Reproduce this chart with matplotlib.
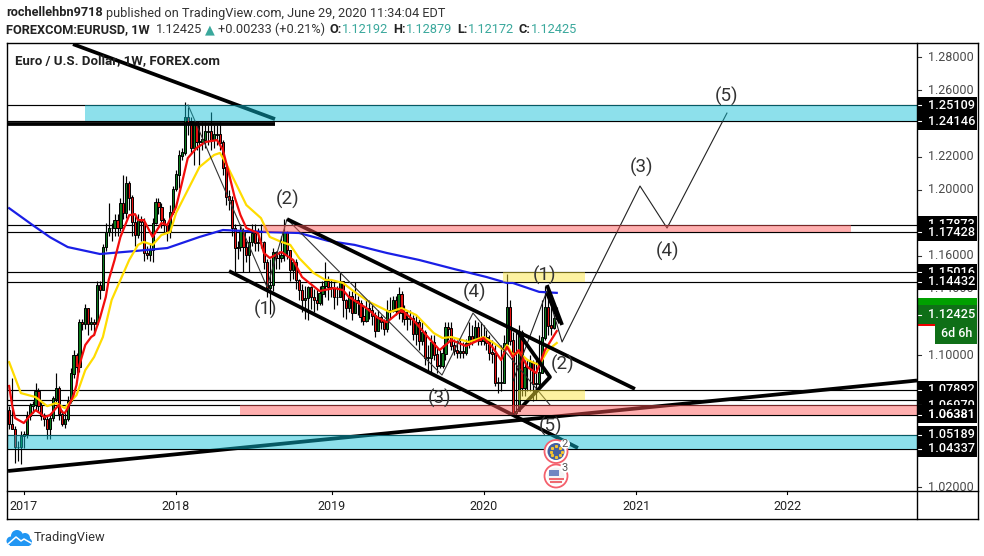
import numpy as np
import matplotlib
matplotlib.use("Agg")
import matplotlib.pyplot as plt
from matplotlib.patches import Rectangle, Circle

plt.rcParams['font.family'] = ['Roboto', 'DejaVu Sans']

# weekly candles, ten per row
closes = [
    1.0583, 1.0552, 1.0443, 1.0443, 1.0510, 1.0522, 1.0631, 1.0692, 1.0698, 1.0777,
    1.0692, 1.0631, 1.0613, 1.0552, 1.0619, 1.0735, 1.0795, 1.0643, 1.0583, 1.0613,
    1.0722, 1.0886, 1.0996, 1.0929, 1.1196, 1.1190, 1.1281, 1.1190, 1.1196, 1.1190,
    1.1421, 1.1391, 1.1652, 1.1743, 1.1767, 1.1767, 1.1816, 1.1767, 1.1919, 1.1858,
    1.2035, 1.1950, 1.1804, 1.1725, 1.1816, 1.1804, 1.1615, 1.1603, 1.1634, 1.1798,
    1.1925, 1.1895, 1.1816, 1.1785, 1.1743, 1.1864, 1.2004, 1.2089, 1.2205, 1.2223,
    1.2435, 1.2405, 1.2253, 1.2411, 1.2290, 1.2290, 1.2302, 1.2350, 1.2350, 1.2302,
    1.2332, 1.2332, 1.2284, 1.2132, 1.1956, 1.1937, 1.1767, 1.1646, 1.1652, 1.1755,
    1.1652, 1.1603, 1.1682, 1.1737, 1.1676, 1.1682, 1.1682, 1.1561, 1.1403, 1.1421,
    1.1621, 1.1585, 1.1585, 1.1603, 1.1743, 1.1634, 1.1512, 1.1561, 1.1451, 1.1391,
    1.1330, 1.1342, 1.1409, 1.1348, 1.1330, 1.1312, 1.1372, 1.1415, 1.1445, 1.1409,
    1.1403, 1.1348, 1.1348, 1.1445, 1.1330, 1.1287, 1.1354, 1.1257, 1.1330, 1.1312,
    1.1233, 1.1208, 1.1281, 1.1269, 1.1239, 1.1148, 1.1227, 1.1202, 1.1160, 1.1269,
    1.1269, 1.1330, 1.1269, 1.1366, 1.1257, 1.1220, 1.1220, 1.1220, 1.1129, 1.1196,
    1.1087, 1.1135, 1.0984, 1.0984, 1.1075, 1.1002, 1.0935, 1.0935, 1.1008, 1.1166,
    1.1160, 1.1056, 1.1026, 1.1014, 1.1020, 1.1014, 1.1069, 1.1111, 1.1087, 1.1166,
    1.1105, 1.1087, 1.1105, 1.1075, 1.1014, 1.1008, 1.0832, 1.0832, 1.0832, 1.1069,
    1.1287, 1.1087, 1.0650, 1.0660, 1.1135, 1.0801, 1.0923, 1.0923, 1.0953, 1.0826,
    1.0826, 1.0892, 1.1105, 1.1287, 1.1178, 1.1166, 1.1219, 1.12425,
]
highs = [
    1.069, 1.086, 1.057, 1.048, 1.054, 1.054, 1.066, 1.071, 1.072, 1.083,
    1.080, 1.072, 1.065, 1.063, 1.065, 1.075, 1.089, 1.081, 1.067, 1.066,
    1.075, 1.092, 1.103, 1.101, 1.122, 1.122, 1.131, 1.122, 1.123, 1.122,
    1.145, 1.145, 1.167, 1.180, 1.192, 1.180, 1.185, 1.185, 1.195, 1.209,
    1.208, 1.205, 1.197, 1.185, 1.185, 1.184, 1.183, 1.166, 1.168, 1.183,
    1.195, 1.195, 1.192, 1.183, 1.180, 1.191, 1.202, 1.212, 1.224, 1.225,
    1.253, 1.250, 1.244, 1.242, 1.241, 1.239, 1.241, 1.241, 1.239, 1.247,
    1.239, 1.239, 1.241, 1.230, 1.215, 1.200, 1.196, 1.179, 1.169, 1.179,
    1.177, 1.169, 1.172, 1.179, 1.179, 1.177, 1.179, 1.169, 1.158, 1.158,
    1.165, 1.163, 1.163, 1.172, 1.182, 1.175, 1.163, 1.158, 1.158, 1.146,
    1.143, 1.142, 1.142, 1.142, 1.140, 1.140, 1.142, 1.145, 1.156, 1.148,
    1.146, 1.145, 1.142, 1.150, 1.145, 1.134, 1.139, 1.139, 1.144, 1.136,
    1.133, 1.130, 1.133, 1.133, 1.130, 1.126, 1.127, 1.124, 1.122, 1.133,
    1.135, 1.136, 1.136, 1.141, 1.139, 1.130, 1.127, 1.127, 1.124, 1.124,
    1.122, 1.120, 1.115, 1.106, 1.112, 1.112, 1.104, 1.103, 1.106, 1.120,
    1.120, 1.120, 1.110, 1.109, 1.109, 1.108, 1.110, 1.120, 1.118, 1.121,
    1.120, 1.120, 1.118, 1.115, 1.112, 1.109, 1.106, 1.087, 1.106, 1.112,
    1.149, 1.133, 1.114, 1.115, 1.118, 1.115, 1.097, 1.097, 1.100, 1.097,
    1.097, 1.112, 1.133, 1.142, 1.134, 1.130, 1.124, 1.12879,
]
lows = [
    1.055, 1.055, 1.035, 1.036, 1.034, 1.044, 1.050, 1.061, 1.065, 1.067,
    1.066, 1.061, 1.057, 1.049, 1.049, 1.060, 1.071, 1.061, 1.057, 1.056,
    1.060, 1.071, 1.086, 1.089, 1.090, 1.115, 1.116, 1.112, 1.115, 1.112,
    1.118, 1.134, 1.142, 1.163, 1.172, 1.169, 1.172, 1.172, 1.175, 1.182,
    1.183, 1.188, 1.172, 1.166, 1.171, 1.169, 1.157, 1.158, 1.157, 1.156,
    1.179, 1.185, 1.177, 1.174, 1.169, 1.171, 1.185, 1.199, 1.201, 1.218,
    1.221, 1.233, 1.222, 1.215, 1.224, 1.215, 1.224, 1.225, 1.227, 1.224,
    1.225, 1.227, 1.224, 1.209, 1.191, 1.188, 1.172, 1.150, 1.158, 1.163,
    1.150, 1.156, 1.150, 1.166, 1.163, 1.163, 1.165, 1.152, 1.135, 1.125,
    1.139, 1.152, 1.152, 1.156, 1.157, 1.158, 1.145, 1.146, 1.140, 1.133,
    1.126, 1.122, 1.121, 1.128, 1.126, 1.127, 1.130, 1.130, 1.135, 1.133,
    1.135, 1.128, 1.130, 1.136, 1.123, 1.122, 1.126, 1.121, 1.127, 1.124,
    1.120, 1.118, 1.120, 1.122, 1.118, 1.111, 1.115, 1.116, 1.112, 1.114,
    1.122, 1.126, 1.124, 1.122, 1.120, 1.118, 1.115, 1.118, 1.109, 1.106,
    1.103, 1.106, 1.094, 1.089, 1.089, 1.097, 1.089, 1.092, 1.092, 1.097,
    1.109, 1.103, 1.100, 1.098, 1.098, 1.098, 1.100, 1.104, 1.106, 1.109,
    1.106, 1.106, 1.106, 1.103, 1.097, 1.095, 1.081, 1.077, 1.078, 1.097,
    1.106, 1.106, 1.0638, 1.0638, 1.075, 1.075, 1.075, 1.078, 1.078, 1.072,
    1.073, 1.081, 1.106, 1.109, 1.112, 1.112, 1.116, 1.12172,
]
first_open = 1.0662
last_bar_date = 2020.49

# moving averages, read at some bars only
red_bars = [0, 1, 2, 5, 7, 9, 11, 12, 14, 16, 17, 18, 19, 20, 22, 23, 24, 26, 28, 29, 31, 33, 34, 36,
            38, 41, 43, 44, 46, 49, 52, 54, 57, 59, 61, 64, 67, 71, 73, 75, 77, 79, 81, 85, 87, 89,
            93, 97, 100, 106, 111, 114, 116, 122, 126, 129, 134, 138, 143, 147, 151, 156, 162, 165,
            168, 170, 172, 174, 177, 180, 183, 187]
red_ma = [1.0813, 1.0698, 1.0619, 1.0589, 1.0631, 1.0667, 1.0643, 1.0625, 1.0637, 1.0679, 1.0698, 1.0655,
          1.0649, 1.0679, 1.0758, 1.0819, 1.0940, 1.1061, 1.1109, 1.1121, 1.1224, 1.1351, 1.1454, 1.1575,
          1.1714, 1.1846, 1.1852, 1.1816, 1.1816, 1.1714, 1.1798, 1.1786, 1.1895, 1.2040, 1.2191, 1.2252,
          1.2288, 1.2300, 1.2240, 1.2101, 1.1955, 1.1846, 1.1768, 1.1737, 1.1617, 1.1587, 1.1623, 1.1575,
          1.1472, 1.1387, 1.1405, 1.1393, 1.1351, 1.1284, 1.1224, 1.1199, 1.1272, 1.1212, 1.1109, 1.1030,
          1.1091, 1.1055, 1.1103, 1.1049, 1.0970, 1.1049, 1.0988, 1.1030, 1.0928, 1.0891, 1.1030, 1.1145]
yellow_bars = [0, 4, 9, 13, 16, 19, 23, 26, 29, 32, 35, 38, 41, 44, 46, 49, 52, 55, 57, 61, 65, 70, 72, 74,
               78, 81, 86, 89, 93, 96, 99, 104, 108, 110, 114, 118, 123, 130, 134, 139, 145, 148, 151,
               157, 162, 165, 169, 170, 172, 174, 177, 181, 184, 187]
yellow_ma = [1.0957, 1.0770, 1.0746, 1.0691, 1.0710, 1.0679, 1.0758, 1.0909, 1.0988, 1.1109, 1.1333, 1.1454,
             1.1575, 1.1666, 1.1684, 1.1666, 1.1726, 1.1744, 1.1859, 1.1998, 1.2137, 1.2210, 1.2222, 1.2161,
             1.2016, 1.1907, 1.1828, 1.1714, 1.1684, 1.1666, 1.1587, 1.1496, 1.1454, 1.1454, 1.1436, 1.1381,
             1.1321, 1.1260, 1.1284, 1.1242, 1.1133, 1.1103, 1.1109, 1.1079, 1.1109, 1.1079, 1.1030, 1.1061,
             1.1000, 1.1018, 1.0970, 1.0940, 1.1030, 1.1073]
blue_bars = [0, 8, 14, 20, 31, 43, 54, 65, 73, 88, 99, 109, 118, 129, 140, 152, 163, 170, 172, 181, 187]
blue_ma = [1.1888, 1.1786, 1.1712, 1.1653, 1.1611, 1.1629, 1.1647, 1.1714, 1.1756, 1.1744, 1.1738,
           1.1690, 1.1666, 1.1617, 1.1575, 1.1520, 1.1472, 1.1436, 1.1436, 1.1382, 1.1376]

# price levels and zones
level_prices = [1.25109, 1.24146, 1.17873, 1.17428, 1.15016, 1.14432, 1.07892, 1.0726, 1.0697, 1.06381,
                1.05189, 1.04337]
boxed_labels = ['1.25109', '1.24146', '1.17873', '1.17428', '1.15016', '1.14432', '1.07892', '1.06970',
                '1.06381', '1.05189', '1.04337']
boxed_prices = [1.25109, 1.24146, 1.17873, 1.17428, 1.15016, 1.14432, 1.07892, 1.0697, 1.06381, 1.05189, 1.04337]
price_ticks = [1.28, 1.26, 1.24, 1.22, 1.20, 1.18, 1.16, 1.14, 1.12, 1.10, 1.08, 1.06, 1.04, 1.02]
price_tick_labels = ['1.28000', '1.26000', '1.22000', '1.20000', '1.16000', '1.14000', '1.10000', '1.02000']
price_tick_label_at = [1.28, 1.26, 1.22, 1.20, 1.16, 1.14, 1.10, 1.02]
year_ticks = [2017, 2018, 2019, 2020, 2021, 2022]
year_tick_pos = [2017.0, 2017.995, 2019.016, 2020.011, 2021.012, 2022.0]
zones = [
    (2017.401, 2022.85, 1.24146, 1.25109, (13/255, 191/255, 213/255)),
    (2016.892, 2022.85, 1.04337, 1.05189, (13/255, 191/255, 213/255)),
    (2018.567, 2022.417, 1.17428, 1.17873, (1.0, 85/255, 85/255)),
    (2018.417, 2022.85, 1.06381, 1.0697, (1.0, 85/255, 85/255)),
    (2020.137, 2020.674, 1.14432, 1.15016, (251/255, 229/255, 57/255)),
    (2020.236, 2020.674, 1.0726, 1.07892, (251/255, 229/255, 57/255)),
]

# drawings: [years], [prices]
thick_lines = [
    ([2017.324, 2018.646], [1.2880, 1.2427]),
    ([2016.892, 2018.646], [1.2400, 1.2400]),
    ([2018.725, 2021.002], [1.1822, 1.0795]),
    ([2018.345, 2020.629], [1.1508, 1.0438]),
    ([2016.899, 2022.848], [1.0299, 1.0846]),
    ([2020.236, 2020.446, 2020.236], [1.1139, 1.0867, 1.0662]),
    ([2020.426, 2020.525], [1.1423, 1.1182]),
    ([2020.426, 2020.512], [1.1375, 1.1193]),
]
wave_a_x = [2018.077, 2018.594, 2018.725, 2019.739, 2019.942, 2020.446]
wave_a_y = [1.2512, 1.1411, 1.1822, 1.0879, 1.1254, 1.0698]
wave_b_x = [2020.204, 2020.426, 2020.525, 2021.035, 2021.212, 2021.604]
wave_b_y = [1.0843, 1.1387, 1.1079, 1.2022, 1.1768, 1.2463]
wave_labels = ['(2)', '(1)', '(3)', '(4)', '(1)', '(2)', '(5)', '(3)', '(4)', '(5)']
wave_label_x = [2018.731, 2018.587, 2019.726, 2019.955, 2020.413, 2020.525, 2020.446, 2021.042, 2021.218, 2021.604]
wave_label_y = [1.1943, 1.1278, 1.0740, 1.1381, 1.1484, 1.0946, 1.0571, 1.2137, 1.1629, 1.2566]

GREEN = '#0b7a1c'
RED = '#e3100f'
TEAL = '#3aa89c'

fig = plt.figure(figsize=(9.84, 5.56), dpi=100)
W, H = 984.0, 556.0
ymin, ymax = 1.0181, 1.2885
ax = fig.add_axes([7 / W, 1 - 490.5 / H, 910.3 / W, 447.2 / H])
ax.set_xlim(2016.892, 2022.85)
ax.set_ylim(ymin, ymax)
ax.axis('off')

n = len(closes)
dates = last_bar_date - (n - 1 - np.arange(n)) * 7 / 365.25
c = np.array(closes)
o = np.concatenate(([first_open], c[:-1]))
hi = np.maximum(np.maximum(highs, o), c)
lo = np.minimum(np.minimum(lows, o), c)

for p in level_prices:
    ax.axhline(p, color='black', lw=0.85, zorder=1)

ax.vlines(dates, lo, hi, color='black', lw=0.85, zorder=2)
ax.bar(dates, np.abs(c - o) + 0.0003, bottom=np.minimum(c, o), width=0.0145,
       color=[GREEN if a >= b else RED for a, b in zip(c, o)],
       edgecolor='black', linewidth=0.7, zorder=3)

ax.plot(dates[blue_bars], blue_ma, color='#1a1fe6', lw=1.6, zorder=4)
ax.plot(dates[yellow_bars], yellow_ma, color='#ffdc00', lw=1.6, zorder=4)
ax.plot(dates[red_bars], red_ma, color='#f20d0d', lw=1.6, zorder=4)

ax.plot(wave_a_x, wave_a_y, color='#333333', lw=0.8, zorder=5)
ax.plot(wave_b_x, wave_b_y, color='#222222', lw=0.8, zorder=5)
for xs, ys in thick_lines:
    ax.plot(xs, ys, color='black', lw=2.7, zorder=5, solid_capstyle='butt')

for x0, x1, p0, p1, col in zones:
    ax.add_patch(Rectangle((x0, p0), x1 - x0, p1 - p0, facecolor=col, alpha=0.47, lw=0, zorder=6))

for s, x, y in zip(wave_labels, wave_label_x, wave_label_y):
    ax.text(x, y, s, ha='center', va='center', fontsize=13.5, color='#333333', zorder=7)

# price scale
ax_p = fig.add_axes([917.3 / W, 1 - 490.5 / H, 60 / W, 447.2 / H])
ax_p.set_xlim(0, 60)
ax_p.set_ylim(ymin, ymax)
ax_p.axis('off')
for p in price_ticks:
    ax_p.plot([0, 4], [p, p], color='#333333', lw=0.8, zorder=1)
for s, p in zip(price_tick_labels, price_tick_label_at):
    ax_p.text(11, p, s, ha='left', va='center', fontsize=9, color='#4a4a4a', zorder=1, clip_on=True)

box_h = 0.0103
for i, (s, p) in enumerate(zip(boxed_labels, boxed_prices)):
    z = 2 + i
    ax_p.add_patch(Rectangle((0, p - box_h / 2), 60, box_h, facecolor='black', lw=0, zorder=z))
    ax_p.plot([0, 4], [p, p], color='white', lw=0.8, zorder=z)
    ax_p.text(11, p, s, ha='left', va='center', fontsize=9.2, color='white', fontweight='medium', zorder=z, clip_on=True)
    # labels hidden behind these two in the reference cut the ones above short
    if s == '1.07892':
        ax_p.add_patch(Rectangle((0, 1.0746), 60, 0.0039, facecolor='black', lw=0, zorder=z))
    if s == '1.06381':
        ax_p.add_patch(Rectangle((0, 1.0655), 60, 0.0041, facecolor='black', lw=0, zorder=z))
        ax_p.text(11, p, s, ha='left', va='center', fontsize=9.2, color='white', fontweight='medium', zorder=z)

# current price tag
last = closes[-1]
ax_p.add_patch(Rectangle((0, last + 0.0055), 60, 0.0045, facecolor='#00a000', lw=0, zorder=20))
ax_p.add_patch(Rectangle((0, last - 0.0058), 60, 0.0120, facecolor='#0f6f17', lw=0, zorder=21))
ax_p.plot([0, 4], [last, last], color='white', lw=0.8, zorder=22)
ax_p.text(11, last, f'{last:.5f}', ha='left', va='center', fontsize=9.2, color='white', fontweight='medium', zorder=22)
ax_p.add_patch(Rectangle((0, last - 0.0068), 18, 0.0012, facecolor='#f00000', lw=0, zorder=22))
ax_p.add_patch(Rectangle((18, last - 0.0174), 42, 0.0118, facecolor='#0f6f17', lw=0, zorder=22))
ax_p.text(39, last - 0.0115, '6d 6h', ha='center', va='center', fontsize=9, color='white', fontweight='medium', zorder=23)

# everything that sits in plain pixels: frame, header, time labels, logo, event icons
ov = fig.add_axes([0, 0, 1, 1], zorder=10)
ov.set_xlim(0, W)
ov.set_ylim(H, 0)
ov.axis('off')
ov.patch.set_alpha(0)

for xs, ys in [([6.5, 977.5], [43.3, 43.3]), ([6.5, 977.5], [519, 519]), ([6.5, 977.5], [490.5, 490.5]),
               ([6.5, 6.5], [43.3, 519]), ([917.3, 917.3], [43.3, 519]), ([977.5, 977.5], [43.3, 519])]:
    ov.plot(xs, ys, color='black', lw=1.0, solid_capstyle='projecting')

for yr, t in zip(year_ticks, year_tick_pos):
    px = 7 + (t - 2016.892) * 910.3 / (2022.85 - 2016.892)
    ov.plot([px, px], [490.5, 494], color='black', lw=0.8)
    ov.text(px, 506, str(yr), ha='center', va='center', fontsize=9, color='#222222')


def text_run(x, y, parts):
    renderer = fig.canvas.get_renderer()
    for s, col, weight, gap in parts:
        t = ov.text(x, y, s, ha='left', va='center', fontsize=9.15, color=col, fontweight=weight)
        x += t.get_window_extent(renderer).width + gap


text_run(6, 13, [('rochellehbn9718', '#222222', 'bold', 3),
                 ('published on TradingView.com, June 29, 2020 11:34:04 EDT', '#333333', 'normal', 0)])
text_run(6, 29.5, [('FOREXCOM:EURUSD, 1W', '#222222', 'bold', 6),
                   ('1.12425', '#333333', 'normal', 3),
                   ('▲', TEAL, 'normal', 3),
                   ('+0.00233 (+0.21%)', '#333333', 'normal', 5),
                   ('O:', '#222222', 'bold', 0), ('1.12192', TEAL, 'normal', 5),
                   ('H:', '#222222', 'bold', 0), ('1.12879', TEAL, 'normal', 5),
                   ('L:', '#222222', 'bold', 0), ('1.12172', TEAL, 'normal', 5),
                   ('C:', '#222222', 'bold', 0), ('1.12425', TEAL, 'normal', 0)])
fig.text(15 / W, 1 - 60.5 / H, 'Euro / U.S. Dollar, 1W, FOREX.com', ha='left', va='center',
         fontsize=9.5, fontweight='bold', color='#222222', zorder=0)

# event icons
for cy, inner in [(451.5, '#45609f'), (476, '#f4f4f4')]:
    ov.add_patch(Circle((556, cy), 11.5, facecolor='white', edgecolor='#f4606c', lw=1.3))
    ov.add_patch(Circle((556, cy), 8.5, facecolor=inner, edgecolor='none'))
for a in np.arange(0, 360, 45):
    ov.plot(556 + 5.5 * np.cos(np.radians(a)), 451.5 + 5.5 * np.sin(np.radians(a)), 's', ms=1.2, color='#f4c430')
ov.add_patch(Rectangle((548.5, 469.5), 10, 6.5, facecolor='#6f86c2', lw=0))
ov.add_patch(Rectangle((548.5, 477.5), 15, 2, facecolor='#ee6a70', lw=0))
ov.add_patch(Rectangle((550, 481), 12, 2, facecolor='#ee6a70', lw=0))
ov.add_patch(Circle((565, 444), 5, facecolor='white', edgecolor='none'))
ov.text(565, 444, '2', ha='center', va='center', fontsize=8, color='#555555')
ov.add_patch(Circle((565, 468), 5, facecolor='white', edgecolor='none'))
ov.text(565, 468, '3', ha='center', va='center', fontsize=8, color='#555555')

# TradingView logo
for cx, cy, r in [(11, 541, 4.5), (17, 536, 6), (25, 538, 5), (28, 542, 4)]:
    ov.add_patch(Circle((cx, cy), r, facecolor='#2196f3', edgecolor='none'))
ov.add_patch(Rectangle((10, 540), 19, 5.5, facecolor='#2196f3', lw=0))
ov.plot([8, 16, 21, 24, 31], [544, 537, 541, 539, 543], color='white', lw=1.1)
ov.text(34, 537.5, 'TradingView', ha='left', va='center', fontsize=9.3, color='#333333')

fig.savefig('out.png', dpi=100)
